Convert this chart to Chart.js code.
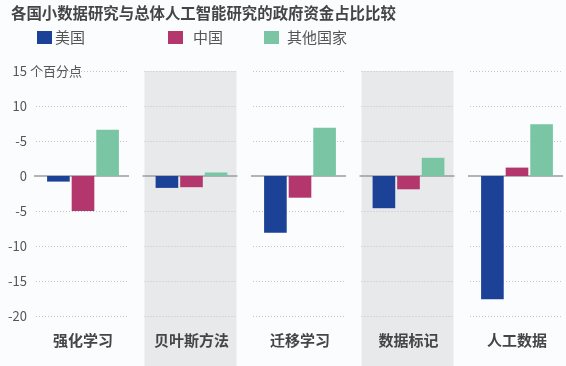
<!DOCTYPE html>
<html>
<head>
<meta charset="utf-8">
<script src="https://cdn.jsdelivr.net/npm/chart.js@4/dist/chart.umd.min.js"></script>
<style>
  html, body { margin: 0; padding: 0; background: #fbfcfd; overflow: hidden; }
  #wrap { position: relative; width: 566px; height: 366px; font-family: "Noto Sans CJK SC", "Noto Sans", sans-serif; }
  #chart { position: absolute; left: 0; top: 0; }
  #title { position: absolute; left: 11px; top: 1px; font-size: 15.4px; font-weight: bold; color: #454545; white-space: nowrap; }
  .lg { position: absolute; top: 26px; font-size: 15px; color: #555; white-space: nowrap; line-height: 22px; }
  .lg i { position: absolute; top: 5px; width: 15px; height: 13px; }
</style>
</head>
<body>
<div id="wrap">
  <canvas id="chart" width="566" height="366"></canvas>
  <div id="title">各国小数据研究与总体人工智能研究的政府资金占比比较</div>
  <div id="legend"></div>
</div>
<script>
const categories = ['强化学习', '贝叶斯方法', '迁移学习', '数据标记', '人工数据'];
const seriesNames = ['美国', '中国', '其他国家'];
const usValues = [-0.8, -1.7, -8.1, -4.6, -17.6];
const chinaValues = [-5.0, -1.6, -3.1, -1.9, 1.2];
const otherValues = [6.6, 0.5, 6.9, 2.6, 7.4];
const yTickValues = [-20, -15, -10, -5, 0, 5, 10, 15];
const yTickLabels = ['-20', '-15', '-10', '-5', '0', '-5', '10', '15'];
const yUnit = '个百分点';

const colors = ['#1c4297', '#b3366c', '#79c5a4'];
const FONT = '"Noto Sans CJK SC", "Noto Sans", sans-serif';

const legendPos = [[37, 55], [168, 193], [264, 287]];
const legendEl = document.getElementById('legend');
seriesNames.forEach((n, i) => {
  const d = document.createElement('div');
  d.className = 'lg';
  d.style.left = legendPos[i][0] + 'px';
  d.innerHTML = '<i style="left:0;background:' + colors[i] + '"></i><span style="position:absolute;left:' + (legendPos[i][1] - legendPos[i][0]) + 'px">' + n + '</span>';
  legendEl.appendChild(d);
});

const panelsPlugin = {
  id: 'panels',
  beforeDraw(chart) {
    const ctx = chart.ctx;
    const xs = chart.scales.x, ys = chart.scales.y;
    const top = chart.chartArea.top;
    ctx.save();
    ctx.fillStyle = '#fbfcfd';
    ctx.fillRect(0, 0, chart.width, chart.height);
    categories.forEach((c, i) => {
      const cx = xs.getPixelForValue(i);
      const l = cx - 47, r = cx + 45;
      if (i % 2 === 1) {
        ctx.fillStyle = '#e8e9eb';
        ctx.fillRect(l, top, r - l, chart.height - top);
      }
      ctx.strokeStyle = '#c4c5c8';
      ctx.lineWidth = 1;
      ctx.setLineDash([1, 2]);
      yTickValues.forEach(v => {
        if (v === 0) return;
        const y = Math.round(ys.getPixelForValue(v)) + 0.5;
        ctx.beginPath(); ctx.moveTo(l, y); ctx.lineTo(r, y); ctx.stroke();
      });
      ctx.setLineDash([]);
      ctx.strokeStyle = '#9c9c9c';
      ctx.lineWidth = 1.5;
      const y0 = ys.getPixelForValue(0);
      ctx.beginPath(); ctx.moveTo(l - 2, y0); ctx.lineTo(r + 1, y0); ctx.stroke();
    });
    ctx.restore();
  },
  afterDraw(chart) {
    const ctx = chart.ctx;
    const ys = chart.scales.y;
    ctx.save();
    ctx.font = '13px ' + FONT;
    ctx.fillStyle = '#555';
    ctx.textBaseline = 'middle';
    ctx.textAlign = 'left';
    ctx.fillText(yUnit, 30, ys.getPixelForValue(15));
    ctx.restore();
  }
};

new Chart(document.getElementById('chart'), {
  type: 'bar',
  data: {
    labels: categories,
    datasets: [
      { label: seriesNames[0], data: usValues, backgroundColor: colors[0] },
      { label: seriesNames[1], data: chinaValues, backgroundColor: colors[1] },
      { label: seriesNames[2], data: otherValues, backgroundColor: colors[2] }
    ].map(d => Object.assign(d, { clip: false, borderWidth: 0, categoryPercentage: 0.68, barPercentage: 0.92 }))
  },
  options: {
    responsive: false,
    animation: false,
    devicePixelRatio: 1,
    layout: { padding: { top: 71, right: 49, bottom: 0, left: 0 } },
    plugins: { legend: { display: false }, title: { display: false }, tooltip: { enabled: false } },
    scales: {
      x: {
        type: 'category',
        offset: false,
        grid: { display: false, drawTicks: false },
        border: { display: false },
        ticks: { padding: 15, color: '#454545', font: { family: FONT, size: 15, weight: 'bold' }, maxRotation: 0, autoSkip: false },
        afterFit(s) { s.height = 50; }
      },
      y: {
        min: -20, max: 15,
        grid: { display: false, drawTicks: false },
        border: { display: false },
        afterBuildTicks(s) { s.ticks = yTickValues.map(v => ({ value: v })); },
        ticks: {
          padding: 56,
          color: '#555',
          font: { family: FONT, size: 13 },
          callback(v) { const i = yTickValues.indexOf(v); return i >= 0 ? yTickLabels[i] : ''; }
        },
        afterFit(s) { s.width = 83; s.paddingTop = 0; s.paddingBottom = 0; }
      }
    }
  },
  plugins: [panelsPlugin]
});
</script>
</body>
</html>
